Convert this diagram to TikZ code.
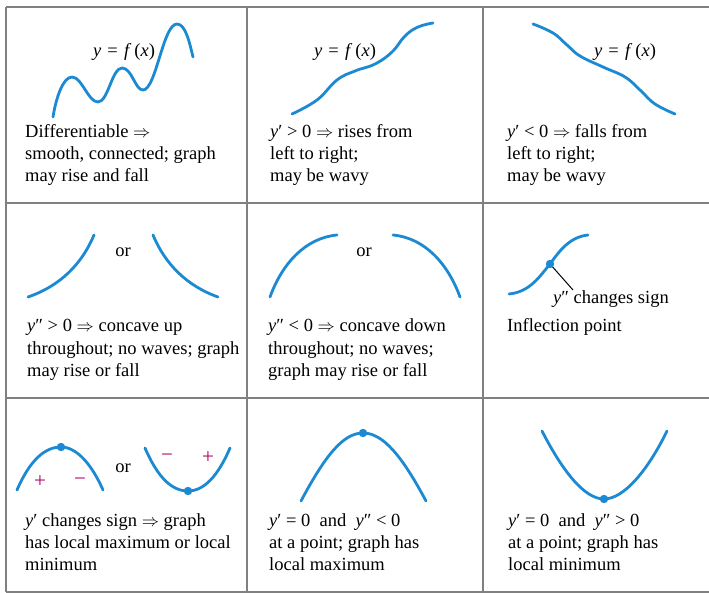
\documentclass[tikz,border=0pt]{standalone}
\usepackage{fontspec}
\setmainfont{Liberation Serif}
\definecolor{curveblue}{RGB}{28,138,210}
\definecolor{signmag}{RGB}{175,0,105}
\definecolor{gridgray}{RGB}{128,128,128}
\newcommand{\yfx}{\textit{y}\,\,=\,\,\textit{f}\,(\textit{x})}
\begin{document}
\begin{tikzpicture}[x=1pt,y=-1pt,
  lbl/.style={anchor=base west, inner sep=0pt, font=\fontsize{18.5}{22}\selectfont},
  ctr/.style={anchor=base, inner sep=0pt, font=\fontsize{18.5}{22}\selectfont},
  sgn/.style={inner sep=0pt, text=signmag, font=\fontsize{21}{22}\selectfont},
  curve/.style={draw=curveblue, line width=2.8pt, line cap=round},
  gridline/.style={draw=gridgray, line width=2pt},
  pt/.style={fill=curveblue}]
\useasboundingbox[fill=white] (0,0) rectangle (709,593);
% grid
\draw[gridline] (6,7) -- (709,7);
\draw[gridline] (6,203) -- (709,203);
\draw[gridline] (6,398) -- (709,398);
\draw[gridline] (6,592) -- (709,592);
\draw[gridline] (6,7) -- (6,592);
\draw[gridline] (247,7) -- (247,592);
\draw[gridline] (483,7) -- (483,592);
% ---- cell 1
\draw[curve] (53,117) .. controls (56,98) and (63,77) .. (72,77)
  .. controls (82,77) and (88,102) .. (98,102)
  .. controls (108,102) and (112,68) .. (122,68)
  .. controls (132,68) and (135,90) .. (143,90)
  .. controls (156,90) and (163,24) .. (177,24)
  .. controls (186,24) and (190,45) .. (193,57);
\node[ctr] (f1) at (124,57) {\yfx};
\node[lbl] (t1a) at (25,138) {Differentiable $\Rightarrow$};
\node[lbl] (t1b) at (25,160) {smooth, connected; graph};
\node[lbl] (t1c) at (25,182) {may rise and fall};
% ---- cell 2
\draw[curve] plot[smooth, tension=0.7] coordinates {(292,114) (317,100) (337,80) (355,71) (375,64) (392,52) (405,36) (418,27) (433,23)};
\node[ctr] (f2) at (345,57) {\yfx};
\node[lbl] (t2a) at (270,138) {\textit{y}′ > 0 $\Rightarrow$ rises from};
\node[lbl] (t2b) at (270,160) {left to right;};
\node[lbl] (t2c) at (270,182) {may be wavy};
% ---- cell 3
\draw[curve] plot[smooth, tension=0.7] coordinates {(533,24) (553,33) (567,45) (580,56) (603,67) (625,77) (640,90) (655,104) (675,114)};
\node[ctr] (f3) at (625,57) {\yfx};
\node[lbl] (t3a) at (507,138) {\textit{y}′ < 0 $\Rightarrow$ falls from};
\node[lbl] (t3b) at (507,160) {left to right;};
\node[lbl] (t3c) at (507,182) {may be wavy};
% ---- cell 4
\draw[curve] (28,297) .. controls (60,286) and (82,264) .. (94,235);
\draw[curve] (153,235) .. controls (165,264) and (187,286) .. (218,297);
\node[ctr] (or4) at (123,257) {or};
\node[lbl] (t4a) at (27,332) {\textit{y}″ > 0 $\Rightarrow$ concave up};
\node[lbl] (t4b) at (27,354) {throughout; no waves; graph};
\node[lbl] (t4c) at (27,376) {may rise or fall};
% ---- cell 5
\draw[curve] (270,297) .. controls (282,264) and (305,238) .. (337,235);
\draw[curve] (393,235) .. controls (425,238) and (448,264) .. (460,297);
\node[ctr] (or5) at (364,257) {or};
\node[lbl] (t5a) at (268,332) {\textit{y}″ < 0 $\Rightarrow$ concave down};
\node[lbl] (t5b) at (268,354) {throughout; no waves;};
\node[lbl] (t5c) at (268,376) {graph may rise or fall};
% ---- cell 6
\draw[curve] (509,294) .. controls (530,292) and (540,276) .. (550,264)
  .. controls (560,250) and (570,237) .. (588,235);
\coordinate (ip) at (550,264);
\coordinate (ipend) at (573,290);
\draw[line width=1pt] (ip) -- (ipend);
\fill[pt] (ip) circle (4.2);
\node[lbl] (t6a) at (553,304) {\textit{y}″ changes sign};
\node[lbl] (t6b) at (507,332) {Inflection point};
% ---- cell 7
\draw[curve] (17,490) .. controls (30,460) and (45,447) .. (61,447)
  .. controls (77,447) and (92,465) .. (103,490);
\fill[pt] (61,447) circle (4.2);
\node[sgn] (p7a) at (40,482) {+};
\node[sgn] (m7a) at (80,482) {−};
\node[ctr] (or7) at (123,472) {or};
\draw[curve] (145,448) .. controls (158,478) and (172,491) .. (188,491)
  .. controls (204,491) and (218,476) .. (230,448);
\fill[pt] (188,491) circle (4.2);
\node[sgn] (m7b) at (167,458) {−};
\node[sgn] (p7b) at (208,458) {+};
\node[lbl] (t7a) at (25,526) {\textit{y}′ changes sign $\Rightarrow$ graph};
\node[lbl] (t7b) at (25,548) {has local maximum or local};
\node[lbl] (t7c) at (25,570) {minimum};
% ---- cell 8
\draw[curve] (301,501) .. controls (325,456) and (343,433) .. (363,433)
  .. controls (383,433) and (402,456) .. (426,501);
\fill[pt] (363,433) circle (4.2);
\node[lbl] (t8a) at (269,526) {\textit{y}′ = 0\enspace and\enspace\textit{y}″ < 0};
\node[lbl] (t8b) at (269,548) {at a point; graph has};
\node[lbl] (t8c) at (269,570) {local maximum};
% ---- cell 9
\draw[curve] (542,431) .. controls (562,470) and (584,499) .. (604,499)
  .. controls (624,499) and (648,470) .. (667,431);
\fill[pt] (604,499) circle (4.2);
\node[lbl] (t9a) at (508,526) {\textit{y}′ = 0\enspace and\enspace\textit{y}″ > 0};
\node[lbl] (t9b) at (508,548) {at a point; graph has};
\node[lbl] (t9c) at (508,570) {local minimum};
\end{tikzpicture}
\end{document}
